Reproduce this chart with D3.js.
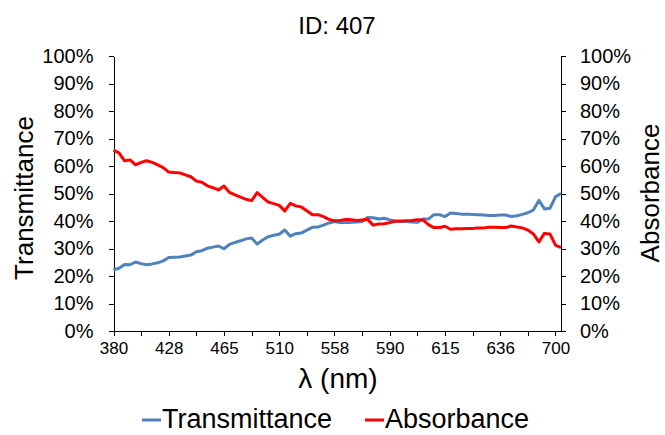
<!DOCTYPE html>
<html>
<head>
<meta charset="utf-8">
<script src="https://cdn.jsdelivr.net/npm/d3@7"></script>
<style>
  body { margin: 0; background: #fff; }
  svg { display: block; font-family: "Liberation Sans", Arial, sans-serif; }
  .axis path, .axis line { stroke: #000; shape-rendering: crispEdges; }
  .axis text { fill: #000; }
</style>
</head>
<body>
<div id="chart"></div>
<script>
var widthT = 665, heightT = 435;

// wavelength categories (nm), only every 10th is labelled
var wavelengths = [380, 385, 390, 394, 399, 404, 409, 414, 418, 423,
  428, 432, 435, 439, 443, 446, 450, 454, 458, 461,
  465, 470, 474, 479, 483, 488, 492, 497, 501, 506,
  510, 515, 520, 524, 529, 534, 539, 544, 548, 553,
  558, 561, 564, 568, 571, 574, 577, 580, 584, 587,
  590, 592, 595, 597, 600, 602, 605, 607, 610, 612,
  615, 617, 619, 621, 623, 625, 628, 630, 632, 634,
  636, 642, 649, 655, 662, 668, 674, 681, 687, 694,
  700, 706];

var transmittance = [22.2, 22.8, 24.2, 24.1, 25.1, 24.5, 24.1, 24.4, 24.8, 25.5,
  26.7, 26.8, 26.9, 27.3, 27.6, 28.8, 29.2, 30.1, 30.5, 30.9,
  29.9, 31.5, 32.2, 32.8, 33.5, 33.8, 31.6, 33.1, 34.3, 34.8,
  35.2, 36.7, 34.5, 35.4, 35.6, 36.7, 37.7, 37.8, 38.5, 39.3,
  39.8, 39.4, 39.5, 39.5, 39.6, 39.8, 41.3, 41.2, 40.7, 41.0,
  40.4, 40.0, 39.8, 39.8, 39.6, 39.5, 40.7, 40.7, 42.3, 42.3,
  41.6, 42.9, 42.7, 42.5, 42.5, 42.4, 42.3, 42.2, 42.0, 42.0,
  42.2, 42.2, 41.6, 41.9, 42.4, 43.0, 44.0, 47.5, 44.4, 44.6,
  48.8, 50.0];

var absorbance = [65.8, 64.8, 61.9, 62.2, 60.4, 61.3, 61.9, 61.3, 60.4, 59.4,
  57.8, 57.6, 57.5, 56.8, 56.1, 54.5, 54.1, 52.8, 52.1, 51.3,
  52.7, 50.4, 49.5, 48.7, 47.9, 47.4, 50.3, 48.6, 46.9, 46.3,
  45.7, 43.7, 46.4, 45.5, 45.1, 43.7, 42.3, 42.3, 41.6, 40.6,
  40.1, 40.2, 40.6, 40.5, 40.2, 40.4, 40.6, 38.5, 38.9, 39.0,
  39.4, 39.9, 40.0, 40.1, 40.2, 40.5, 40.4, 38.7, 37.6, 37.6,
  38.1, 37.0, 37.2, 37.2, 37.3, 37.3, 37.5, 37.5, 37.7, 37.7,
  37.6, 37.6, 38.2, 37.8, 37.5, 36.7, 35.3, 32.4, 35.5, 35.3,
  31.2, 30.3];

var yTicks = [0, 10, 20, 30, 40, 50, 60, 70, 80, 90, 100];

var series = [
  {name: "Transmittance", values: transmittance, color: "#4F81BD"},
  {name: "Absorbance", values: absorbance, color: "#FF0000"}
];

var plot = {left: 113.5, right: 561, top: 56, bottom: 331};

var svg = d3.select("#chart")
  .append("svg")
  .attr("width", widthT)
  .attr("height", heightT);

var x = d3.scalePoint()
  .domain(wavelengths)
  .range([plot.left, plot.right]);

var y = d3.scaleLinear()
  .domain([0, 100])
  .range([plot.bottom, plot.top]);

// title
svg.append("text")
  .attr("x", 337)
  .attr("y", 34)
  .attr("text-anchor", "middle")
  .style("font-size", "24px")
  .text("ID: 407");

// axes
var xTickVals = wavelengths.filter(function(d, i) { return i % 5 === 0; });

svg.append("g")
  .attr("class", "x axis")
  .attr("transform", "translate(0," + plot.bottom + ")")
  .call(d3.axisBottom(x)
    .tickValues(xTickVals)
    .tickSize(5)
    .tickSizeOuter(0)
    .tickPadding(6)
    .tickFormat(function(d) { return wavelengths.indexOf(d) % 10 === 0 ? d : ""; }))
  .call(function(g) { g.select(".domain").attr("d", "M" + plot.left + ",0.5H" + plot.right); })
  .selectAll("text").style("font-size", "17px");

svg.append("g")
  .attr("class", "y axis")
  .attr("transform", "translate(" + plot.left + ",0)")
  .call(d3.axisLeft(y)
    .tickValues(yTicks)
    .tickSize(5)
    .tickSizeOuter(0)
    .tickPadding(15)
    .tickFormat(function(d) { return d + "%"; }))
  .selectAll("text").style("font-size", "20px");

svg.append("g")
  .attr("class", "y2 axis")
  .attr("transform", "translate(" + plot.right + ",0)")
  .call(d3.axisRight(y)
    .tickValues(yTicks)
    .tickSize(5)
    .tickSizeOuter(0)
    .tickPadding(14)
    .tickFormat(function(d) { return d + "%"; }))
  .selectAll("text").style("font-size", "20px");

// axis titles
svg.append("text")
  .attr("transform", "translate(33,198) rotate(-90)")
  .attr("text-anchor", "middle")
  .style("font-size", "26px")
  .text("Transmittance");

svg.append("text")
  .attr("transform", "translate(659,193) rotate(-90)")
  .attr("text-anchor", "middle")
  .style("font-size", "26px")
  .text("Absorbance");

svg.append("text")
  .attr("x", 338)
  .attr("y", 388)
  .attr("text-anchor", "middle")
  .style("font-size", "28px")
  .text("λ (nm)");

// lines
var line = d3.line()
  .x(function(d, i) { return x(wavelengths[i]); })
  .y(function(d) { return y(d); });

series.forEach(function(s) {
  svg.append("path")
    .datum(s.values)
    .attr("fill", "none")
    .attr("stroke", s.color)
    .attr("stroke-width", 3)
    .attr("stroke-linejoin", "round")
    .attr("d", line);
});

// legend
var legendX = [142, 365];
series.forEach(function(s, i) {
  var lg = svg.append("g").attr("transform", "translate(" + legendX[i] + ",420)");
  lg.append("line")
    .attr("x1", 0).attr("x2", 19)
    .attr("stroke", s.color)
    .attr("stroke-width", 3);
  lg.append("text")
    .attr("x", 20)
    .attr("y", 8)
    .style("font-size", "27px")
    .text(s.name);
});
</script>
</body>
</html>
